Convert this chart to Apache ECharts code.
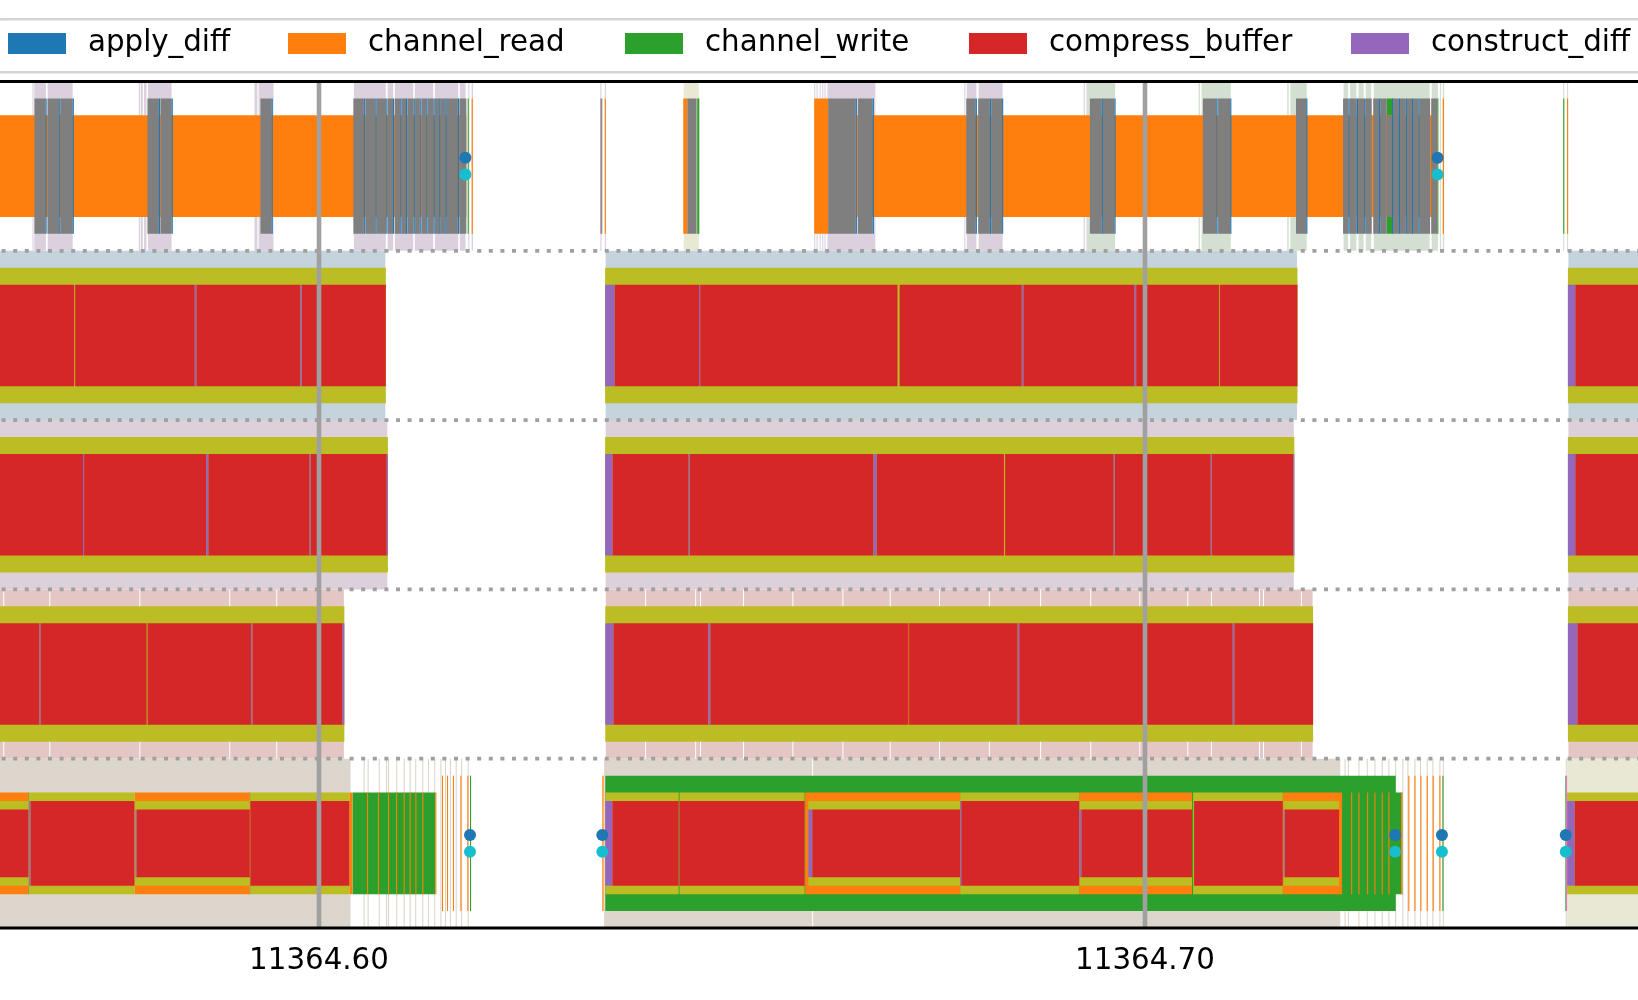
<!DOCTYPE html>
<html>
<head>
<meta charset="utf-8">
<script src="https://cdn.jsdelivr.net/npm/echarts@6/dist/echarts.min.js"></script>
<style>
html,body{margin:0;padding:0;background:#fff;}
#chart{width:1638px;height:1000px;}
</style>
</head>
<body>
<div id="chart"></div>
<script>
// ---------------- data (time in seconds) ----------------
const X_TICKS = [11364.60, 11364.70];
const LANE_BOUNDARIES = [1, 2, 3, 4];
const X_MIN = 11364.560169, X_MAX = 11364.760896;

// spans: [lane, depth, start, end]
const SPANS_APPLY_DIFF = [
[0,1,11364.56689,11364.56703],[0,1,11364.56855,11364.56868],[0,1,11364.57019,11364.57032],
[0,1,11364.58061,11364.58075],[0,1,11364.58217,11364.58230],[0,1,11364.59427,11364.59440],
[0,1,11364.60541,11364.60556],[0,1,11364.60683,11364.60697],[0,1,11364.60815,11364.60828],
[0,1,11364.60896,11364.60910],[0,1,11364.60985,11364.60998],[0,1,11364.61053,11364.61066],
[0,1,11364.61147,11364.61160],[0,1,11364.61219,11364.61232],[0,1,11364.61300,11364.61312],
[0,1,11364.61388,11364.61399],[0,1,11364.61458,11364.61467],[0,1,11364.61534,11364.61544],
[0,1,11364.61679,11364.61695],[0,1,11364.66496,11364.66512],[0,1,11364.66702,11364.66718],
[0,1,11364.67948,11364.67965],[0,1,11364.68121,11364.68136],[0,1,11364.68271,11364.68283],
[0,1,11364.69477,11364.69490],[0,1,11364.69631,11364.69644],[0,1,11364.70863,11364.70878],
[0,1,11364.71034,11364.71044],[0,1,11364.71955,11364.71964],[0,1,11364.72465,11364.72477],
[0,1,11364.72565,11364.72579],[0,1,11364.72653,11364.72666],[0,1,11364.72833,11364.72850],
[0,1,11364.72992,11364.73004],[0,1,11364.73074,11364.73087],[0,1,11364.73157,11364.73171],
[0,1,11364.73232,11364.73245],[0,1,11364.73311,11364.73324]
];
const SPANS_CHANNEL_READ = [
[0,2,11364.55500,11364.61784],[0,2,11364.66512,11364.73539],
[0,1,11364.64410,11364.64459],[0,1,11364.65995,11364.66164],
[0,1,11364.63460,11364.63472],[0,1,11364.61848,11364.61862],
[0,1,11364.73605,11364.73620],[0,1,11364.75110,11364.75122],
[4,2,11364.55500,11364.56483],[4,2,11364.57766,11364.59162],[4,2,11364.60368,11364.60405],
[4,2,11364.61408,11364.61421],[4,2,11364.65886,11364.67762],[4,2,11364.69204,11364.70569],
[4,2,11364.71668,11364.72386],
[4,2,11364.60582,11364.60594],[4,2,11364.60714,11364.60726],[4,2,11364.60836,11364.60848],
[4,2,11364.60933,11364.60945],[4,2,11364.61025,11364.61037],[4,2,11364.61098,11364.61110],
[4,2,11364.61167,11364.61179],[4,2,11364.61251,11364.61263],
[4,2,11364.72496,11364.72508],[4,2,11364.72584,11364.72596],[4,2,11364.72689,11364.72701],
[4,2,11364.72778,11364.72790],[4,2,11364.72866,11364.72878],[4,2,11364.72947,11364.72959],
[4,2,11364.73100,11364.73116],
[4,1,11364.61489,11364.61501],[4,1,11364.61550,11364.61562],[4,1,11364.61622,11364.61634],
[4,1,11364.61712,11364.61724],[4,1,11364.61796,11364.61808],[4,1,11364.63430,11364.63446],
[4,1,11364.73188,11364.73200],[4,1,11364.73262,11364.73274],[4,1,11364.73334,11364.73346],
[4,1,11364.73411,11364.73423],[4,1,11364.73483,11364.73495],[4,1,11364.73564,11364.73576]
];
const SPANS_CHANNEL_WRITE = [
[0,1,11364.63417,11364.63428],[0,1,11364.64579,11364.64604],[0,1,11364.61800,11364.61813],
[0,1,11364.72925,11364.73004],[0,1,11364.73539,11364.73552],[0,1,11364.75064,11364.75076],
[4,2,11364.56483,11364.56491],[4,2,11364.59162,11364.59169],[4,2,11364.60405,11364.61408],
[4,1,11364.61828,11364.61841],[4,1,11364.63466,11364.73036],[4,2,11364.72386,11364.73116],
[4,1,11364.73601,11364.73613],[4,1,11364.75090,11364.75102]
];
const SPANS_COMPRESS_BUFFER = [
[1,2,11364.55500,11364.57036],[1,2,11364.57048,11364.58496],[1,2,11364.58515,11364.59772],
[1,2,11364.59791,11364.60809],[1,2,11364.63578,11364.64602],[1,2,11364.64614,11364.67004],
[1,2,11364.67029,11364.68508],[1,2,11364.68527,11364.69874],[1,2,11364.69893,11364.70898],
[1,2,11364.70908,11364.71846],[1,2,11364.75209,11364.76500],
[2,2,11364.55500,11364.57143],[2,2,11364.57156,11364.58635],[2,2,11364.58660,11364.59886],
[2,2,11364.59899,11364.60820],[2,2,11364.63552,11364.64475],[2,2,11364.64488,11364.66713],
[2,2,11364.66751,11364.68293],[2,2,11364.68306,11364.69621],[2,2,11364.69633,11364.70796],
[2,2,11364.70809,11364.71795],[2,2,11364.75209,11364.76500],
[3,2,11364.55500,11364.56615],[3,2,11364.56628,11364.57913],[3,2,11364.57925,11364.59180],
[3,2,11364.59193,11364.60283],[3,2,11364.63564,11364.64713],[3,2,11364.64737,11364.67137],
[3,2,11364.67144,11364.68458],[3,2,11364.68477,11364.71062],[3,2,11364.71081,11364.72035],
[3,2,11364.75234,11364.76500],
[4,4,11364.55500,11364.56483],[4,3,11364.56507,11364.57766],[4,4,11364.57790,11364.59162],
[4,3,11364.59169,11364.60368],[4,3,11364.63551,11364.64354],[4,3,11364.64365,11364.65879],
[4,4,11364.65971,11364.67762],[4,3,11364.67775,11364.69204],[4,4,11364.69229,11364.70569],
[4,3,11364.70594,11364.71668],[4,4,11364.71690,11364.72350],[4,3,11364.75200,11364.76500]
];
const SPANS_CONSTRUCT_DIFF = [
[1,2,11364.58496,11364.58515],[1,2,11364.59772,11364.59791],[1,2,11364.63464,11364.63578],
[1,2,11364.64602,11364.64614],[1,2,11364.68508,11364.68527],[1,2,11364.69874,11364.69893],
[1,2,11364.75120,11364.75209],
[2,2,11364.57143,11364.57156],[2,2,11364.58635,11364.58660],[2,2,11364.59886,11364.59899],
[2,2,11364.60820,11364.60834],[2,2,11364.63464,11364.63552],[2,2,11364.64475,11364.64488],
[2,2,11364.66713,11364.66751],[2,2,11364.69621,11364.69633],[2,2,11364.70796,11364.70809],
[2,2,11364.71795,11364.71808],[2,2,11364.75120,11364.75209],
[3,2,11364.56615,11364.56628],[3,2,11364.59180,11364.59193],[3,2,11364.60283,11364.60307],
[3,2,11364.63466,11364.63564],[3,2,11364.64713,11364.64737],[3,2,11364.68458,11364.68477],
[3,2,11364.71062,11364.71081],[3,2,11364.75120,11364.75234],
[4,3,11364.56491,11364.56507],[4,4,11364.57778,11364.57790],[4,3,11364.63466,11364.63551],
[4,4,11364.65923,11364.65971],[4,3,11364.67762,11364.67775],[4,4,11364.69204,11364.69229],
[4,4,11364.71677,11364.71690],[4,3,11364.75110,11364.75200]
];
const SPANS_GRAY = [
[0,1,11364.56555,11364.56689],[0,1,11364.56713,11364.56855],[0,1,11364.56870,11364.57019],
[0,1,11364.57923,11364.58061],[0,1,11364.58081,11364.58217],[0,1,11364.59291,11364.59427],
[0,1,11364.60416,11364.60541],[0,1,11364.60561,11364.60683],[0,1,11364.60699,11364.60815],
[0,1,11364.60832,11364.60896],[0,1,11364.60917,11364.60985],[0,1,11364.61001,11364.61053],
[0,1,11364.61070,11364.61147],[0,1,11364.61163,11364.61219],[0,1,11364.61239,11364.61300],
[0,1,11364.61316,11364.61388],[0,1,11364.61401,11364.61458],[0,1,11364.61469,11364.61534],
[0,1,11364.61546,11364.61679],[0,1,11364.61699,11364.61784],[0,1,11364.64459,11364.64571],
[0,1,11364.66164,11364.66496],[0,1,11364.66525,11364.66702],[0,1,11364.67836,11364.67948],
[0,1,11364.67980,11364.68121],[0,1,11364.68138,11364.68271],[0,1,11364.69333,11364.69477],
[0,1,11364.69490,11364.69631],[0,1,11364.70701,11364.70863],[0,1,11364.70885,11364.71034],
[0,1,11364.71828,11364.71955],[0,1,11364.72398,11364.72465],[0,1,11364.72477,11364.72565],
[0,1,11364.72579,11364.72653],[0,1,11364.72666,11364.72745],[0,1,11364.72763,11364.72833],
[0,1,11364.72850,11364.72925],[0,1,11364.73004,11364.73074],[0,1,11364.73087,11364.73157],
[0,1,11364.73171,11364.73232],[0,1,11364.73245,11364.73311],[0,1,11364.73324,11364.73452],
[0,1,11364.73465,11364.73539],[0,2,11364.72925,11364.73004]
];
const SPANS_OLIVE = [
[1,1,11364.55500,11364.60809],[1,1,11364.63464,11364.71846],[1,1,11364.75120,11364.76500],
[2,1,11364.55500,11364.60834],[2,1,11364.63464,11364.71808],[2,1,11364.75120,11364.76500],
[3,1,11364.55500,11364.60307],[3,1,11364.63466,11364.72035],[3,1,11364.75120,11364.76500],
[4,3,11364.55500,11364.56483],[4,2,11364.56491,11364.57766],[4,3,11364.57766,11364.59162],
[4,2,11364.59169,11364.60368],[4,2,11364.63466,11364.64354],[4,2,11364.64365,11364.65879],
[4,3,11364.65923,11364.67762],[4,2,11364.67762,11364.69204],[4,3,11364.69204,11364.70569],
[4,2,11364.70582,11364.71668],[4,3,11364.71677,11364.72350],[4,2,11364.75110,11364.76500]
];
const SPANS_PINK = [[0,1,11364.63406,11364.63417],[4,1,11364.75098,11364.75110]];

// depth-0 background spans, one list per tone
const BG_LANE0_MAUVE = [
[0,0,11364.56531,11364.56544],[0,0,11364.56547,11364.56700],[0,0,11364.56709,11364.57024],
[0,0,11364.57818,11364.57834],[0,0,11364.57842,11364.57867],[0,0,11364.57882,11364.57911],
[0,0,11364.57923,11364.58221],[0,0,11364.59219,11364.59254],[0,0,11364.59263,11364.59456],
[0,0,11364.60416,11364.60815],[0,0,11364.60824,11364.60904],[0,0,11364.60913,11364.61147],
[0,0,11364.61154,11364.61388],[0,0,11364.61397,11364.61692],[0,0,11364.61699,11364.61780],
[0,0,11364.61808,11364.61820],[0,0,11364.61848,11364.61865],[0,0,11364.63406,11364.63420],
[0,0,11364.63460,11364.63474],[0,0,11364.65995,11364.66008],[0,0,11364.66024,11364.66037],
[0,0,11364.66061,11364.66074],[0,0,11364.66092,11364.66105],[0,0,11364.66120,11364.66133],
[0,0,11364.66149,11364.66742],[0,0,11364.67813,11364.67825],[0,0,11364.67836,11364.67965],
[0,0,11364.67980,11364.68283],[0,0,11364.69258,11364.69272]
];
const BG_LANE0_KHAKI = [[0,0,11364.64410,11364.64604]];
const BG_LANE0_SAGE = [
[0,0,11364.69285,11364.69644],[0,0,11364.70649,11364.70665],[0,0,11364.70679,11364.71044],
[0,0,11364.71722,11364.71740],[0,0,11364.71754,11364.71964],[0,0,11364.72398,11364.72465],
[0,0,11364.72477,11364.72565],[0,0,11364.72579,11364.72653],[0,0,11364.72666,11364.72745],
[0,0,11364.72763,11364.73452],[0,0,11364.73465,11364.73552],[0,0,11364.73570,11364.73585],
[0,0,11364.73605,11364.73622],[0,0,11364.75064,11364.75076],[0,0,11364.75110,11364.75122]
];
const BG_LANE1 = [[1,0,11364.55500,11364.60809],[1,0,11364.63464,11364.71846],[1,0,11364.75120,11364.76500]];
const BG_LANE2 = [[2,0,11364.55500,11364.60834],[2,0,11364.63464,11364.71808],[2,0,11364.75120,11364.76500]];
const BG_LANE3 = [
[3,0,11364.55500,11364.56183],[3,0,11364.56183,11364.56741],[3,0,11364.56741,11364.57831],
[3,0,11364.57831,11364.58919],[3,0,11364.58919,11364.59488],[3,0,11364.59488,11364.60307],
[3,0,11364.63466,11364.63954],[3,0,11364.63954,11364.64560],[3,0,11364.64560,11364.64619],
[3,0,11364.64619,11364.65140],[3,0,11364.65140,11364.65737],[3,0,11364.65737,11364.66343],
[3,0,11364.66343,11364.66915],[3,0,11364.66915,11364.67512],[3,0,11364.67512,11364.68116],
[3,0,11364.68116,11364.68736],[3,0,11364.68736,11364.69343],[3,0,11364.69343,11364.69937],
[3,0,11364.69937,11364.70518],[3,0,11364.70518,11364.70804],[3,0,11364.70804,11364.71386],
[3,0,11364.71386,11364.71434],[3,0,11364.71434,11364.71894],[3,0,11364.71894,11364.72035],
[3,0,11364.75120,11364.76500]
];
const BG_LANE4_SAND = [
[4,0,11364.55500,11364.60388],
[4,0,11364.60541,11364.60553],[4,0,11364.60589,11364.60601],[4,0,11364.60723,11364.60735],
[4,0,11364.60812,11364.60824],[4,0,11364.60836,11364.60848],[4,0,11364.60935,11364.60947],
[4,0,11364.61025,11364.61037],[4,0,11364.61098,11364.61110],[4,0,11364.61165,11364.61177],
[4,0,11364.61250,11364.61262],[4,0,11364.61320,11364.61332],[4,0,11364.61395,11364.61407],
[4,0,11364.61470,11364.61482],[4,0,11364.61525,11364.61537],[4,0,11364.61585,11364.61597],
[4,0,11364.61655,11364.61667],[4,0,11364.61720,11364.61732],[4,0,11364.61800,11364.61812],
[4,0,11364.63446,11364.65976],[4,0,11364.65976,11364.72370],
[4,0,11364.72417,11364.72429],[4,0,11364.72457,11364.72469],[4,0,11364.72584,11364.72596],
[4,0,11364.72685,11364.72697],[4,0,11364.72778,11364.72790],[4,0,11364.72866,11364.72878],
[4,0,11364.72947,11364.72959],[4,0,11364.73028,11364.73040],[4,0,11364.73116,11364.73128],
[4,0,11364.73177,11364.73189],[4,0,11364.73262,11364.73274],[4,0,11364.73330,11364.73342],
[4,0,11364.73411,11364.73423],[4,0,11364.73479,11364.73491],[4,0,11364.73564,11364.73576],
[4,0,11364.73606,11364.73618],[4,0,11364.75094,11364.75106]
];
const BG_LANE4_CREAM = [[4,0,11364.75105,11364.76500]];

// event markers: [lane, time]
const MARKERS = [
[0,11364.61772],[0,11364.73542],
[4,11364.61828],[4,11364.63430],[4,11364.73028],[4,11364.73595],[4,11364.75094]
];

// ---------------- styling ----------------
const C = {
  blue:'#1f77b4', orange:'#ff7f0e', green:'#2ca02c', red:'#d62728', purple:'#9467bd',
  pink:'#e377c2', gray:'#7f7f7f', olive:'#bcbd22', cyan:'#17becf'
};
const BG_TONES = [
  [BG_LANE0_MAUVE,'#dbd1de'],[BG_LANE0_KHAKI,'#e8e8d3'],[BG_LANE0_SAGE,'#d3dfd0'],
  [BG_LANE1,'#c5d3dc'],[BG_LANE2,'#dcd1db'],[BG_LANE3,'#e4c6c5'],
  [BG_LANE4_SAND,'#ddd6cc'],[BG_LANE4_CREAM,'#e9e8d5']
];
const DEPTH_INSET = [0, 0.1, 0.2, 0.25, 0.3, 0.35];
const FONT = '"DejaVu Sans", sans-serif';

function spanRenderer(gapEdges) {
  return function (params, api) {
    const lane = api.value(0), depth = api.value(1);
    const a = api.coord([api.value(2), lane]);
    const b = api.coord([api.value(3), lane + 1]);
    const laneH = b[1] - a[1];
    const inset = DEPTH_INSET[depth] * laneH;
    let x0 = a[0], x1 = b[0];
    if (gapEdges && x1 - x0 > 3) { x0 += 0.5; x1 -= 0.5; }
    let w = x1 - x0;
    if (w < 1.1) { x0 -= (1.1 - w) / 2; w = 1.1; }
    const cs = params.coordSys;
    const shape = echarts.graphic.clipRectByRect(
      {x: x0, y: a[1] + inset, width: w, height: laneH - 2 * inset},
      {x: cs.x, y: cs.y, width: cs.width, height: cs.height});
    if (!shape) return;
    return {type: 'rect', shape: shape, style: {fill: api.visual('color')}};
  };
}
function spanSeries(name, color, data) {
  return {
    type: 'custom', name: name, renderItem: spanRenderer(false),
    itemStyle: {color: color}, data: data, silent: true,
    encode: {x: [2, 3], y: 0}
  };
}

const bgData = [];
BG_TONES.forEach(function (t) {
  t[0].forEach(function (d) { bgData.push({value: d, itemStyle: {color: t[1]}}); });
});

const LEGEND_NAMES = ['apply_diff','channel_read','channel_write','compress_buffer','construct_diff'];
const LEGEND_LEFT = [8, 288, 625, 969, 1351];

const chart = echarts.init(document.getElementById('chart'), null, {renderer: 'canvas'});
const option = {
  backgroundColor: '#ffffff',
  animation: false,
  graphic: [{
    type: 'rect', z: 0, silent: true,
    shape: {x: -4, y: 19.3, width: 1700, height: 53, r: 5},
    style: {fill: '#ffffff', stroke: '#d4d4d4', lineWidth: 2.4}
  }],
  legend: LEGEND_NAMES.map(function (n, i) {
    return {
      data: [n], left: LEGEND_LEFT[i], top: 27, padding: 0, z: 5,
      itemWidth: 58, itemHeight: 21, icon: 'rect', selectedMode: false,
      textStyle: {fontSize: 29.3, fontFamily: FONT, color: '#000', lineHeight: 29, padding: [4,0,0,17]}
    };
  }),
  grid: {
    left: -10, right: -10, top: 81.5, bottom: 72, show: true, z: 10,
    outerBoundsMode: 'none', containLabel: false,
    backgroundColor: 'transparent', borderColor: '#000', borderWidth: 3
  },
  xAxis: {
    type: 'value', min: X_MIN, max: X_MAX,
    axisLine: {show: false}, splitLine: {show: false},
    axisTick: {show: true, customValues: X_TICKS, length: 9.5, lineStyle: {color: '#000', width: 3}},
    axisLabel: {
      customValues: X_TICKS, margin: 19, fontSize: 29.3, fontFamily: FONT, color: '#000',
      formatter: function (v) { return Number(v).toFixed(2); }
    }
  },
  yAxis: {type: 'value', min: 0, max: 5, inverse: true, show: false},
  series: [
    {type: 'custom', name: 'background', renderItem: spanRenderer(true), data: bgData, silent: true, encode: {x: [2, 3], y: 0}},
    spanSeries('channel_write', C.green, SPANS_CHANNEL_WRITE),
    spanSeries('channel_read', C.orange, SPANS_CHANNEL_READ),
    spanSeries('olive spans', C.olive, SPANS_OLIVE),
    spanSeries('gray spans', C.gray, SPANS_GRAY),
    spanSeries('compress_buffer', C.red, SPANS_COMPRESS_BUFFER),
    spanSeries('construct_diff', C.purple, SPANS_CONSTRUCT_DIFF),
    spanSeries('apply_diff', C.blue, SPANS_APPLY_DIFF),
    spanSeries('pink spans', C.pink, SPANS_PINK),
    {
      type: 'scatter', name: 'marker upper', symbol: 'circle', symbolSize: 12, silent: true,
      itemStyle: {color: C.blue, opacity: 1},
      data: MARKERS.map(function (m) { return [m[1], m[0] + 0.45]; })
    },
    {
      type: 'scatter', name: 'marker lower', symbol: 'circle', symbolSize: 12, silent: true,
      itemStyle: {color: C.cyan, opacity: 1},
      data: MARKERS.map(function (m) { return [m[1], m[0] + 0.55]; })
    },
    {
      type: 'custom', name: 'lane separators', silent: true,
      data: LANE_BOUNDARIES.map(function (v) { return [X_MIN, v]; }),
      renderItem: function (params, api) {
        const cs = params.coordSys;
        const y = api.coord([X_MIN, api.value(1)])[1];
        return {type: 'line', shape: {x1: cs.x, y1: y, x2: cs.x + cs.width, y2: y},
          style: {stroke: '#a0a0a0', lineWidth: 3.7, lineDash: [4, 7.6], lineCap: 'butt'}};
      }
    },
    {
      type: 'custom', name: 'grid lines', silent: true,
      data: X_TICKS.map(function (v) { return [v, 0]; }),
      renderItem: function (params, api) {
        const cs = params.coordSys;
        const x = api.coord([api.value(0), 0])[0];
        return {type: 'line', shape: {x1: x, y1: cs.y, x2: x, y2: cs.y + cs.height},
          style: {stroke: '#a0a0a0', lineWidth: 4.6}};
      }
    }
  ]
};
chart.setOption(option);
</script>
</body>
</html>
